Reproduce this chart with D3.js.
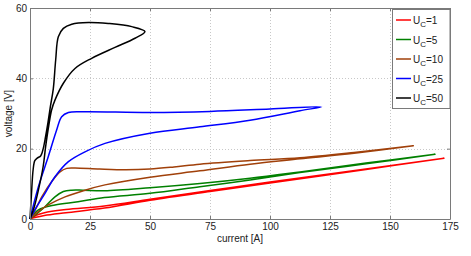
<!DOCTYPE html>
<html>
<head>
<meta charset="utf-8">
<script src="https://cdn.jsdelivr.net/npm/d3@7"></script>
<style>
  body { margin: 0; background: #fff; }
  svg { display: block; font-family: 'Liberation Sans', Arial, sans-serif; }
</style>
</head>
<body>
<svg id="chart" width="471" height="256"></svg>
<script>
// each curve is [current, voltage] in drawing order: out along one branch, back along the other
const curveUc1 = [
  [0, 0], [2, 0.9], [6, 1.8], [15, 2.7], [31, 3.7], [50, 5.6], [75, 8.1], [100, 10.5], [130, 13.3], [172.5, 17.3],
  [140, 14.1], [100, 10.2], [75, 7.8], [50, 5.3], [31, 3.1], [15, 1.8], [6, 1.0], [2, 0.4], [0, 0]
]
const curveUc5 = [
  [0, 0], [3, 1.6], [6.25, 3.5], [10.4, 6.3], [13.9, 7.8], [17.4, 8.2], [22, 8.2], [31, 8.05], [50, 8.9],
  [70.8, 10.1], [91.7, 11.6], [112.5, 13.4], [140, 15.9], [168.75, 18.4],
  [140, 15.7], [112.5, 13.2], [91.7, 11.1], [70.8, 9.2], [50, 7.3], [31, 6.1], [20, 4.9], [10.4, 4.0], [3.5, 2.6], [0, 0]
]
const curveUc10 = [
  [0, 0], [2.5, 3], [4.9, 6.3], [9, 10.6], [12.5, 13.4], [15.3, 14.4], [18.75, 14.5], [29, 14.2], [40, 14.0],
  [50, 14.2], [60, 14.8], [70.8, 15.6], [91.7, 16.6], [112.5, 17.4], [135, 18.9], [159.7, 20.8],
  [135, 18.7], [112.5, 17.1], [91.7, 15.6], [70.8, 13.7], [50, 11.9], [31.25, 9.7], [22.9, 8.2], [14.6, 6.3],
  [7.6, 4], [3.5, 2.1], [0, 0]
]
const curveUc25 = [
  [0, 0], [3.5, 9.2], [7.6, 17.7], [11.1, 25.3], [13.2, 29.1], [16, 30.3], [22.9, 30.5], [50, 30.3], [75, 30.6],
  [100, 31.3], [121.5, 31.9],
  [112.5, 30.8], [91.7, 28.1], [70.8, 26.2], [50, 24.4], [31.25, 21.5], [22.9, 19.1], [16, 16.3], [10.4, 12],
  [6.25, 7.3], [2.8, 3.5], [0, 0]
]
const curveUc50 = [
  [0, 0], [0.6, 7], [1.3, 14], [2, 16.6], [3, 17.3], [4.5, 18], [5.5, 20], [6.5, 23.5], [7.5, 27.5], [8.5, 32],
  [9.7, 37], [10.7, 45.2], [11.8, 51.8], [13.9, 54.2], [17.4, 55.4], [24.3, 55.9], [32.6, 55.6], [42.4, 54.7], [47.9, 53.3],
  [43.75, 51.4], [35.4, 48.8], [25.7, 45.7], [18.75, 42.8], [13.9, 38.6], [10.4, 33.8], [9, 31], [7.8, 26.5],
  [6.5, 20.5], [5.5, 15], [3.5, 8.2], [1.8, 3.5], [0, 0]
]

const seriesNames = ['1', '5', '10', '25', '50']
const seriesColors = ['#ff0000', '#008000', '#a0400a', '#0000ff', '#000000']
const seriesCurves = [curveUc1, curveUc5, curveUc10, curveUc25, curveUc50]

const xTicks = [0, 25, 50, 75, 100, 125, 150, 175]
const yTicks = [0, 20, 40, 60]

const svg = d3.select('#chart')
const plot = { left: 30, right: 450, top: 8, bottom: 219 }

const x = d3.scaleLinear().domain([0, 175]).range([plot.left, plot.right])
const y = d3.scaleLinear().domain([0, 60]).range([plot.bottom, plot.top])

// grid
const grid = svg.append('g')
  .attr('stroke', '#c8c8c8')
  .attr('stroke-width', 1)
  .attr('stroke-dasharray', '1,2')
grid.selectAll('.gx').data(xTicks.slice(1, -1)).join('line')
  .attr('x1', d => Math.round(x(d)) + 0.5).attr('x2', d => Math.round(x(d)) + 0.5)
  .attr('y1', plot.top).attr('y2', plot.bottom)
grid.selectAll('.gy').data(yTicks.slice(1, -1)).join('line')
  .attr('y1', d => Math.round(y(d)) + 0.5).attr('y2', d => Math.round(y(d)) + 0.5)
  .attr('x1', plot.left).attr('x2', plot.right)

// curves
const line = d3.line()
  .x(d => x(d[0]))
  .y(d => y(d[1]))
  .curve(d3.curveCatmullRom.alpha(0.5))

svg.append('g')
  .selectAll('path')
  .data(seriesCurves)
  .join('path')
  .attr('d', line)
  .attr('fill', 'none')
  .attr('stroke', (_, i) => seriesColors[i])
  .attr('stroke-width', 1.5)
  .attr('stroke-linejoin', 'round')

// axes with inward ticks on all four sides
const axisColor = '#7a7a7a'
const addAxis = (axis, tx, ty) => {
  const g = svg.append('g').attr('transform', `translate(${tx},${ty})`).call(axis)
  g.select('.domain').attr('stroke', axisColor)
  g.selectAll('.tick line').attr('stroke', axisColor)
  g.selectAll('.tick text').attr('fill', '#222').attr('font-size', 10)
    .attr('font-family', "'Liberation Sans', Arial, sans-serif")
  return g
}
addAxis(d3.axisBottom(x).tickValues(xTicks).tickSizeInner(-3).tickSizeOuter(0).tickPadding(4), 0, plot.bottom)
addAxis(d3.axisTop(x).tickValues(xTicks).tickSizeInner(-3).tickSizeOuter(0).tickFormat(''), 0, plot.top)
addAxis(d3.axisLeft(y).tickValues(yTicks).tickSizeInner(-3).tickSizeOuter(0).tickPadding(3), plot.left, 0)
addAxis(d3.axisRight(y).tickValues(yTicks).tickSizeInner(-3).tickSizeOuter(0).tickFormat(''), plot.right, 0)

// axis labels
svg.append('text')
  .attr('x', (plot.left + plot.right) / 2).attr('y', 242)
  .attr('text-anchor', 'middle').attr('font-size', 10).attr('fill', '#222')
  .text('current [A]')
svg.append('text')
  .attr('transform', `translate(12,${(plot.top + plot.bottom) / 2}) rotate(-90)`)
  .attr('text-anchor', 'middle').attr('font-size', 10).attr('fill', '#222')
  .text('voltage [V]')

// legend
const legend = svg.append('g')
legend.append('rect')
  .attr('x', 392.5).attr('y', 9.5).attr('width', 57.5).attr('height', 99)
  .attr('fill', '#fff').attr('stroke', axisColor)
const rows = legend.selectAll('.row').data(seriesNames).join('g')
  .attr('transform', (_, i) => `translate(0,${20 + i * 19.5})`)
rows.append('line')
  .attr('x1', 396).attr('x2', 411).attr('y1', 0).attr('y2', 0)
  .attr('stroke', (_, i) => seriesColors[i]).attr('stroke-width', 1.5)
const label = rows.append('text')
  .attr('x', 413).attr('y', 4)
  .attr('font-size', 10).attr('fill', '#222')
label.append('tspan').text('U')
label.append('tspan').attr('dy', 3).attr('font-size', 8).text('C')
label.append('tspan').attr('dy', -3).text(d => '=' + d)
</script>
</body>
</html>
